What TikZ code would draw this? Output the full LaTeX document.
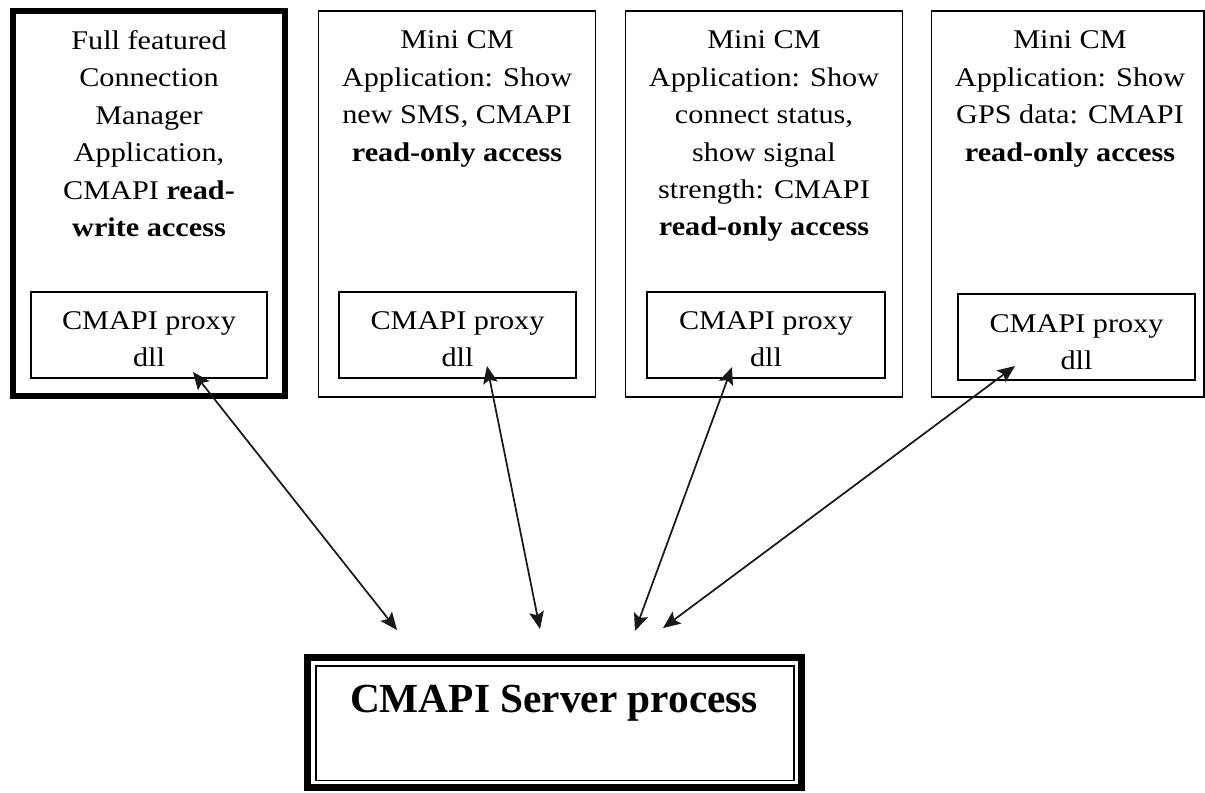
\documentclass[tikz,border=0pt]{standalone}
\usepackage{fontspec}
\setmainfont{Liberation Serif}
\newfontfamily\bodyfont[FakeStretch=1.12]{Liberation Serif}
\usetikzlibrary{arrows.meta}
\begin{document}
\begin{tikzpicture}[x=0.75pt,y=-0.75pt,
  appbox/.style={draw=black,line width=1.3pt,inner sep=0pt},
  mainbox/.style={draw=black,line width=4.5pt,inner sep=0pt},
  proxybox/.style={draw=black,line width=1.2pt,inner sep=0pt,minimum height=64.5pt},
  apptext/.style={anchor=north,inner sep=0pt,align=center,
    font=\bodyfont\fontsize{20.25pt}{28.1pt}\selectfont},
  proxytext/.style={anchor=north,inner sep=0pt,align=center,
    font=\bodyfont\fontsize{20.25pt}{27.8pt}\selectfont},
  srvouter/.style={draw=black,line width=5.25pt,inner sep=0pt,minimum width=370.5pt,minimum height=97.5pt},
  srvinner/.style={draw=black,line width=1.1pt,inner sep=0pt,minimum width=358.5pt,minimum height=85.9pt},
  conn/.style={draw=black!90,line width=1.3pt,{Stealth[length=13pt,width=11pt,inset=2.5pt]}-{Stealth[length=13pt,width=11pt,inset=2.5pt]}}
]
\useasboundingbox (0,0) rectangle (1205,792);
\fill[white] (0,0) rectangle (1205,792);

% application boxes
\node[mainbox,minimum width=204pt,minimum height=288.4pt] (app1) at (149,203.75) {};
\node[appbox,minimum width=207.75pt,minimum height=289.5pt] (app2) at (457,204) {};
\node[appbox,minimum width=207.75pt,minimum height=289.5pt] (app3) at (764,204) {};
\node[appbox,minimum width=204.4pt,minimum height=289.5pt] (app4) at (1067.75,204) {};

% application texts
\node[apptext] (t1) at (149,30) {Full featured\\Connection\\Manager\\Application,\\CMAPI \textbf{read-}\\\textbf{write access}};
\node[apptext] (t2) at (457,30.5) {Mini CM\\Application: Show\\new SMS, CMAPI\\\textbf{read-only access}};
\node[apptext] (t3) at (764,30.5) {Mini CM\\Application: Show\\connect status,\\show signal\\strength: CMAPI\\\textbf{read-only access}};
\node[apptext] (t4) at (1070,30.5) {Mini CM\\Application: Show\\GPS data: CMAPI\\\textbf{read-only access}};

% proxy boxes
\node[proxybox,minimum width=177pt] (px1) at (149,335) {};
\node[proxybox,minimum width=177.75pt] (px2) at (457.5,335) {};
\node[proxybox,minimum width=178.5pt] (px3) at (766,335) {};
\node[proxybox,minimum width=177.75pt] (px4) at (1076.5,337) {};

\node[proxytext] (pt1) at (149,311) {CMAPI proxy\\dll};
\node[proxytext] (pt2) at (457.5,311) {CMAPI proxy\\dll};
\node[proxytext] (pt3) at (766,311) {CMAPI proxy\\dll};
\node[proxytext] (pt4) at (1076.5,314) {CMAPI proxy\\dll};

% server
\node[srvouter] (srv) at (554.5,722) {};
\node[srvinner] (srvin) at (555,723.25) {};
\node[anchor=base,inner sep=0pt,font=\fontsize{31pt}{36pt}\selectfont\bfseries] (srvtext) at (554,712) {CMAPI Server process};

% connector end points
\coordinate (e1) at (193,372);
\coordinate (e2) at (487,366);
\coordinate (e3) at (732,367);
\coordinate (e4) at (1015,366);
\coordinate (s1) at (397,630);
\coordinate (s2) at (540,629);
\coordinate (s3) at (635,631);
\coordinate (s4) at (663,628);

\draw[conn] (e1) -- (s1);
\draw[conn] (e2) -- (s2);
\draw[conn] (e3) -- (s3);
\draw[conn] (e4) -- (s4);
\end{tikzpicture}
\end{document}
